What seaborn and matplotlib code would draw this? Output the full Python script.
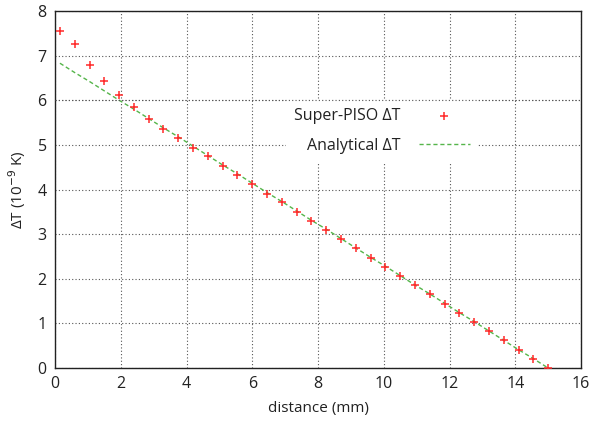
import matplotlib
matplotlib.use("Agg")
import matplotlib.pyplot as plt
import seaborn as sns
import pandas as pd

sns.set_theme(style="white")
plt.rcParams['font.family'] = ['Open Sans', 'DejaVu Sans']

# data
distance = [0.15, 0.6, 1.05, 1.5, 1.95, 2.4, 2.85, 3.3, 3.75, 4.2, 4.65, 5.1,
            5.55, 6.0, 6.45, 6.9, 7.35, 7.8, 8.25, 8.7, 9.15, 9.6, 10.05, 10.5,
            10.95, 11.4, 11.85, 12.3, 12.75, 13.2, 13.65, 14.1, 14.55, 15.0]
super_piso = [7.55, 7.25, 6.79, 6.43, 6.12, 5.84, 5.58, 5.36, 5.15, 4.94, 4.74, 4.53,
              4.33, 4.12, 3.91, 3.71, 3.50, 3.30, 3.09, 2.88, 2.68, 2.47, 2.27, 2.06,
              1.85, 1.65, 1.44, 1.24, 1.03, 0.82, 0.62, 0.41, 0.21, 0.00]
analytical = [6.83, 6.62, 6.42, 6.21, 6.00, 5.80, 5.59, 5.38, 5.18, 4.97, 4.76, 4.55,
              4.35, 4.14, 3.93, 3.73, 3.52, 3.31, 3.11, 2.90, 2.69, 2.48, 2.28, 2.07,
              1.86, 1.66, 1.45, 1.24, 1.04, 0.83, 0.62, 0.41, 0.21, 0.00]
x_ticks = [0, 2, 4, 6, 8, 10, 12, 14, 16]
y_ticks = [0, 1, 2, 3, 4, 5, 6, 7, 8]

df = pd.DataFrame({"distance": distance, "super": super_piso, "analytical": analytical})

fig = plt.figure(figsize=(5.91, 4.21), dpi=100)
ax = fig.add_axes([55/591, 1-368/421, (581-55)/591, (368-11)/421])

sns.lineplot(data=df, x="distance", y="analytical", ax=ax, color="#55b54a",
             linewidth=1.0, dashes=False, linestyle=(0, (3, 2)),
             label="Analytical \u0394T", zorder=3)
sns.scatterplot(data=df, x="distance", y="super", ax=ax, marker="+", color="#ff2a2a",
                s=26, linewidth=1.1, label="Super-PISO \u0394T", zorder=4)

ax.set_xlim(0, 16)
ax.set_ylim(0, 8)
ax.set_xticks(x_ticks)
ax.set_yticks(y_ticks)
ax.tick_params(length=0, labelsize=11.5, colors="#222222", pad=6)
ax.grid(True, color="#555555", linestyle=(0, (1, 2)), linewidth=0.8)
for s in ax.spines.values():
    s.set_color("#222222")
    s.set_linewidth(1.0)
    s.set_visible(True)

ax.set_xlabel("distance (mm)", fontsize=11, color="#222222", labelpad=6)
ax.set_ylabel("\u0394T (10$^{-9}$ K)", fontsize=11, color="#222222", labelpad=7)

handles, labels = ax.get_legend_handles_labels()
order = [1, 0]
leg = ax.legend([handles[i] for i in order], [labels[i] for i in order],
                loc="upper right", bbox_to_anchor=(486/591, 1-92/421),
                bbox_transform=fig.transFigure, markerfirst=False,
                frameon=True, facecolor="white", edgecolor="none", framealpha=1,
                fancybox=False, fontsize=11.5, handlelength=3.2, handletextpad=1.15,
                labelspacing=0.85, borderpad=0.5)
for t in leg.get_texts():
    t.set_color("#222222")
    t.set_ha("right")
# gridline at y=6 drawn over the legend box
ax.axhline(6, color="#555555", linestyle=(0, (1, 2)), linewidth=0.8, zorder=6)

fig.savefig("out.png", dpi=100)
